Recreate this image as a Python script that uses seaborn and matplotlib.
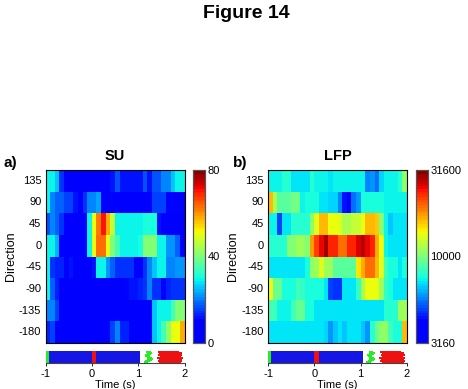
import numpy as np
import pandas as pd
import matplotlib
matplotlib.use('Agg')
import matplotlib.pyplot as plt
from matplotlib.colors import ListedColormap, LogNorm, Normalize
import seaborn as sns

directions = ['135', '90', '45', '0', '-45', '-90', '-135', '-180']
time_ticks = [-1, 0, 1, 2]

# firing rate per direction, 30 bins of 0.1 s from -1 to 2
su_135 = [29,29,26,14,5,5,5,5,5,5,5,5,7,7,12,17,12,12,12,12,12,17,12,17,17,20,20,26,29,29]
su_90 = [29,20,18,18,15,15,12,5,14,20,20,23,10,5,5,5,5,5,5,5,5,5,5,16,16,16,10,10,10,10]
su_45 = [17,20,18,14,5,5,5,5,5,29,50,62,70,58,47,29,29,29,29,29,29,30,30,30,12,5,5,5,5,5]
su_0 = [29,29,24,5,5,5,5,5,5,29,50,63,63,50,40,34,29,29,29,29,31,40,40,40,29,29,22,22,18,10]
su_m45 = [29,14,13,13,7,12,5,5,5,5,12,29,29,22,18,14,14,14,14,7,6,14,20,26,29,29,20,20,22,22]
su_m90 = [29,18,13,5,5,5,5,5,5,5,5,5,5,7,6,6,6,11,12,12,13,14,20,14,14,10,13,14,14,14]
su_m135 = [20,20,16,4,4,4,4,4,6,6,6,6,6,6,6,6,6,6,6,6,6,10,10,26,29,29,29,34,40,40]
su_m180 = [13,16,5,5,5,5,5,5,5,5,5,5,8,10,16,20,13,13,5,5,5,6,10,26,29,34,42,50,50,58]

# LFP power, same layout
lfp_135 = [7250,7250,7250,8000,8000,7000,7000,7000,7000,8000,7250,7250,7250,7000,7250,7250,7250,7250,7250,7250,7250,5800,5900,5500,6800,7250,7250,7250,8000,10500]
lfp_90 = [16000,11500,9200,9200,9200,9800,9800,7250,7600,7600,7600,7200,7200,6900,6900,5800,4400,3300,5500,6000,7500,7600,7600,7600,7600,7250,7250,7250,7250,7250]
lfp_45 = [7250,7250,4900,7000,7000,8000,8000,8000,8000,10500,13000,16500,16500,13500,13500,13000,11500,11500,12000,12000,13500,16500,16500,15500,10000,7250,6700,7000,7000,7100]
lfp_0 = [8000,8000,8000,8000,10000,10000,11000,11000,10000,17500,22000,25000,29000,23000,23000,19500,19500,23000,23000,26000,28000,25000,23500,17000,13500,7250,7000,7000,7000,7000]
lfp_m45 = [7200,7200,7200,7200,7200,7200,7200,7200,7600,10500,11000,13000,11000,11000,9000,9000,9000,9000,9000,14500,17000,19500,19500,16500,13000,8600,7600,7600,7200,7500]
lfp_m90 = [13500,9500,9500,7600,7600,7600,8600,8100,7600,7600,7600,7600,7000,5000,4700,4700,7000,7000,7200,8100,11500,13500,13500,13500,11000,8100,7600,7200,7200,7200]
lfp_m135 = [8600,8600,7250,7250,7250,8600,9500,9500,7600,7600,7000,7000,7000,7000,7000,7000,7000,7000,7000,7000,7200,7200,7200,7200,7200,8000,8000,8000,11000,11000]
lfp_m180 = [7200,7200,7200,7200,7200,7200,7200,7200,7200,7200,7200,7000,6800,6000,6700,7000,6700,7100,7100,7100,6600,5900,7900,9500,10500,10500,8600,7500,7500,16000]

# trial events below the maps (time in s)
trials = [0, 1, 2, 3, 4, 5, 6, 7, 8, 9]
go_times = [1.17, 1.2, 1.24, 1.26, 1.24, 1.2, 1.19, 1.23, 1.25, 1.22]
touch_start = [1.46, 1.42, 1.5, 1.44, 1.4, 1.47, 1.43, 1.5, 1.45, 1.42]
touch_end = [1.93, 1.95, 1.9, 1.94, 1.96, 1.92, 1.95, 1.91, 1.94, 1.88]
bar_end = [1.05, 1.05, 1.05, 1.05, 1.05, 1.05, 1.05, 1.05, 1.05, 1.05]

su_data = pd.DataFrame([su_135, su_90, su_45, su_0, su_m45, su_m90, su_m135, su_m180], index=directions)
lfp_data = pd.DataFrame([lfp_135, lfp_90, lfp_45, lfp_0, lfp_m45, lfp_m90, lfp_m135, lfp_m180], index=directions)

sns.set_style('ticks', {'text.color': 'black', 'axes.labelcolor': 'black', 'xtick.color': 'black',
                        'ytick.color': 'black', 'axes.edgecolor': 'black'})
plt.rcParams['font.family'] = ['Liberation Sans', 'DejaVu Sans']
plt.rcParams['axes.linewidth'] = 0.8

cmap = ListedColormap(plt.cm.jet(np.clip(np.linspace(0, 1, 64), 0.11, 1)))

W, H = 468.0, 389.0
fig = plt.figure(figsize=(4.68, 3.89), dpi=100)


def box(x0, y0, x1, y1):
    return [x0 / W, 1 - y1 / H, (x1 - x0) / W, (y1 - y0) / H]


def panel(data, norm, left, title, letter, letter_x, cbar_ticks, cbar_labels):
    ax = fig.add_axes(box(left, 170, left + 139, 343))
    cax = fig.add_axes(box(left + 147.5, 170, left + 159.5, 343))
    sns.heatmap(data, ax=ax, cbar_ax=cax, cmap=cmap, norm=norm, xticklabels=False, yticklabels=True)
    for s in ax.spines.values():
        s.set_visible(True)
        s.set_color('black')
        s.set_linewidth(0.8)
    ax.tick_params(axis='y', left=True, right=True, length=2.5, width=0.6, direction='in',
                   labelsize=8, pad=3, labelrotation=0)
    ax.tick_params(axis='x', bottom=False)
    ax.set_ylabel('Direction', fontsize=9, labelpad=1.5)
    ax.set_title(title, fontsize=10.5, fontweight='bold', pad=7)
    fig.text(letter_x / W, 1 - 163 / H, letter, fontsize=11, fontweight='bold', va='center')

    cax.minorticks_off()
    cax.yaxis.set_ticks(cbar_ticks)
    cax.yaxis.set_ticklabels(cbar_labels)
    cax.yaxis.set_minor_locator(matplotlib.ticker.NullLocator())
    cax.tick_params(axis='y', length=2, width=0.6, direction='in', labelsize=8, pad=2)
    for s in cax.spines.values():
        s.set_visible(True)
        s.set_color('#555555')
        s.set_linewidth(0.8)

    # event strip
    ev = fig.add_axes(box(left, 351, left + 139, 363))
    ev.hlines(trials, [-0.95] * len(trials), bar_end, color='#1515e6', linewidth=1.1, antialiased=False)
    ev.hlines(trials, [-1.0] * len(trials), [-0.93] * len(trials), color='#22ee22', linewidth=1.1, antialiased=False)
    ev.hlines(trials, [0.0] * len(trials), [0.1] * len(trials), color='#ee1111', linewidth=1.1, antialiased=False)
    ev.hlines(trials, np.array(go_times) - 0.05, np.array(go_times) + 0.05, color='#22ee22', linewidth=1.1,
              antialiased=False)
    ev.hlines(trials, touch_start, touch_end, color='#ee1111', linewidth=1.1, antialiased=False)
    ev.set_xlim(-1, 2)
    ev.set_ylim(-0.5, 9.5)
    ev.set_xticks(time_ticks)
    ev.set_xticklabels(['-1', '0', '1', '2'])
    ev.set_yticks([])
    ev.tick_params(axis='x', length=2, width=0.6, direction='out', labelsize=8, pad=2)
    ev.set_xlabel('Time (s)', fontsize=8, labelpad=1)
    for k in ['top', 'left', 'right']:
        ev.spines[k].set_visible(False)
    ev.spines['bottom'].set_color('#444444')


panel(su_data, Normalize(0, 80), 45.5, 'SU', 'a)', 3, [0, 40, 80], ['0', '40', '80'])
panel(lfp_data, LogNorm(3160, 31600), 268, 'LFP', 'b)', 232.5, [3160, 10000, 31600], ['3160', '10000', '31600'])

fig.text(246 / W, 1 - 13 / H, 'Figure 14', fontsize=14, fontweight='bold', ha='center', va='center')

fig.savefig('out.png', dpi=100)
